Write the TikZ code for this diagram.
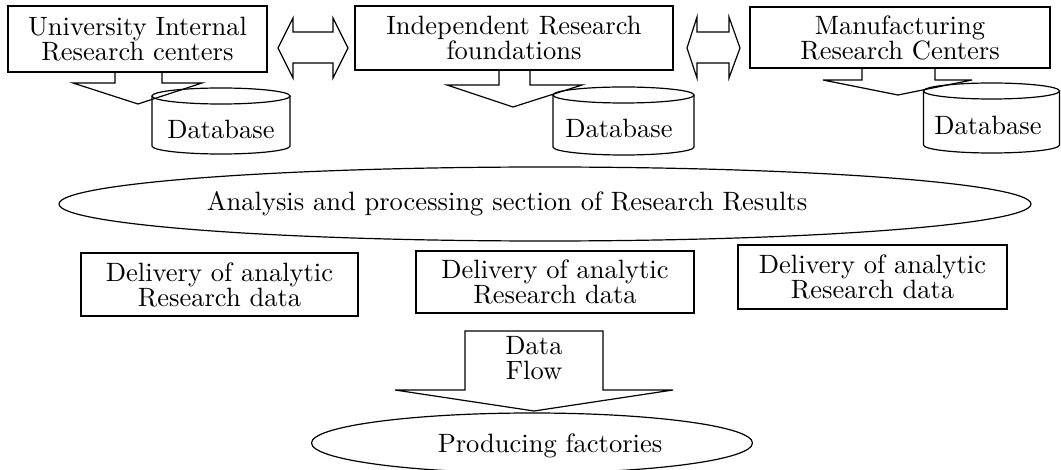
\documentclass[tikz,border=0pt]{standalone}
\usepackage{fontspec}
\setmainfont{lmroman10-regular.otf}
\usetikzlibrary{shapes.geometric}
\tikzset{
  every node/.style={font=\fontsize{26.5}{25}\selectfont, align=center, inner sep=0pt},
  box/.style={draw, rectangle},
  oval/.style={draw, ellipse, inner sep=0pt},
  blockarrow/.style={line join=miter},
}
\begin{document}
\begin{tikzpicture}[x=1pt, y=-1pt, line width=1.2pt]
\useasboundingbox (0,0) rectangle (1061,470);

% top boxes
\node[box, minimum width=259pt, minimum height=66pt] (u) at (137.5,39) {University Internal\\Research centers};
\node[box, minimum width=318pt, minimum height=64pt] (i) at (514,38) {Independent Research\\foundations};
\node[box, minimum width=300pt, minimum height=61pt] (m) at (900,37.5) {Manufacturing\\Research Centers};

% double arrows
\draw[blockarrow] (278,48) -- (293,18) -- (293,32) -- (333,32) -- (333,18) -- (348,48)
  -- (333,78) -- (333,63) -- (293,63) -- (293,78) -- cycle;
\draw[blockarrow] (687,48) -- (697,17) -- (697,32) -- (729,32) -- (729,17) -- (740,48)
  -- (729,78) -- (729,63) -- (697,63) -- (697,78) -- cycle;

% down arrows from boxes
\draw[blockarrow] (115,72) -- (115,83) -- (73,83) -- (138,104) -- (202,83) -- (162,83) -- (162,72);
\draw[blockarrow] (499,70) -- (499,85) -- (447,85) -- (513,107) -- (582,85) -- (530,85) -- (530,70);
\draw[blockarrow] (862,68) -- (862,80) -- (823,80) -- (898,95) -- (972,80) -- (935,80) -- (935,68);

% cylinders
\draw (221,96) ellipse [x radius=69, y radius=8];
\draw (152,96) -- (152,146) arc [start angle=180, end angle=0, x radius=69, y radius=8] -- (290,96);
\node (db1) at (221,129) {Database};

\draw (623.5,95) ellipse [x radius=70.5, y radius=8];
\draw (553,95) -- (553,147) arc [start angle=180, end angle=0, x radius=70.5, y radius=8] -- (694,95);
\node (db2) at (619,128) {Database};

\draw (991.5,91) ellipse [x radius=68, y radius=8];
\draw (923.5,91) -- (923.5,145) arc [start angle=180, end angle=0, x radius=68, y radius=8] -- (1059.5,91);
\node (db3) at (988,125) {Database};

% analysis ellipse
\node[oval, minimum width=972pt, minimum height=74pt] (ana) at (545,204) {};
\node (anat) at (507,204) {Analysis and processing section of Research Results};

% delivery boxes
\node[box, minimum width=277pt, minimum height=63pt] (d1) at (219.5,284.5) {Delivery of analytic\\Research data};
\node[box, minimum width=278pt, minimum height=62pt] (d2) at (555,282) {Delivery of analytic\\Research data};
\node[box, minimum width=269pt, minimum height=64pt] (d3) at (872.5,277) {Delivery of analytic\\Research data};

% data flow arrow
\draw[blockarrow] (465,390) -- (465,331) -- (603,331) -- (603,390) -- (673,390) -- (534,411) -- (395,390) -- cycle;
\node (df) at (534,358) {Data\\Flow};

% producing factories
\node[oval, minimum width=441pt, minimum height=60pt] (pf) at (532,443) {};
\node (pft) at (550,446) {Producing factories};
\end{tikzpicture}
\end{document}
